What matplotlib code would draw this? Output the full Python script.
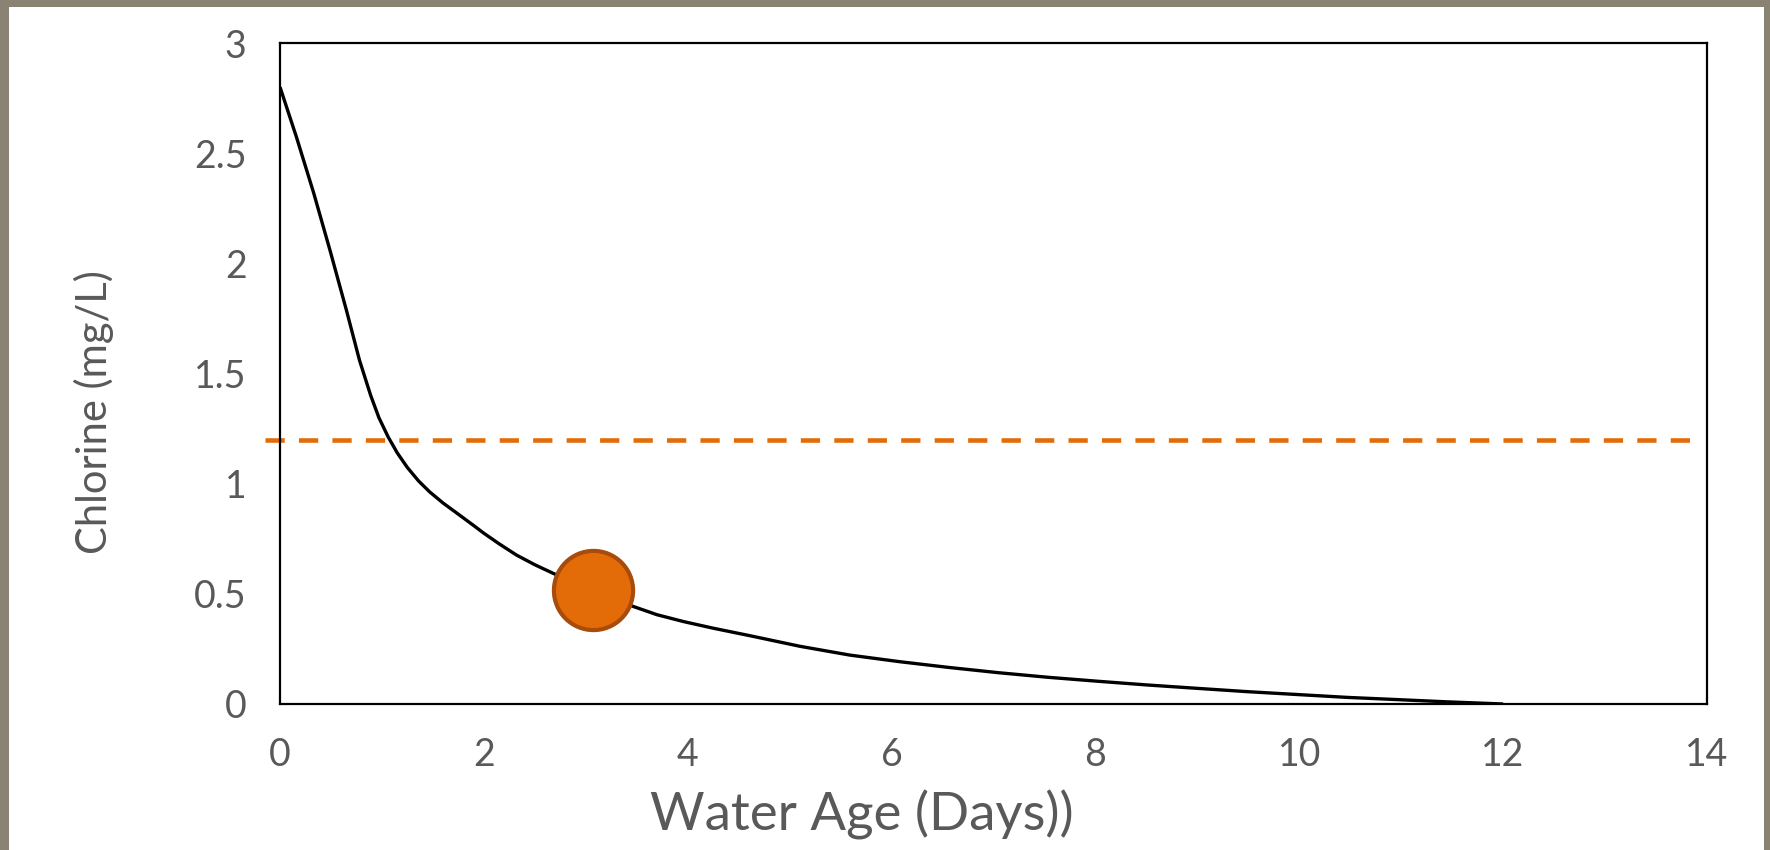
import matplotlib
matplotlib.use("Agg")
import matplotlib.pyplot as plt
from matplotlib.patches import Rectangle

# Data
water_age = [0, 0.16, 0.33, 0.49, 0.65, 0.78, 0.89, 0.97, 1.06, 1.15, 1.25, 1.36,
             1.47, 1.6, 1.73, 1.9, 2.0, 2.15, 2.32, 2.5, 2.68, 2.88, 3.07, 3.27,
             3.47, 3.7, 3.96, 4.25, 4.61, 5.1, 5.59, 6.08, 6.56, 7.05, 7.54, 8.03,
             8.52, 9.0, 9.49, 9.98, 10.47, 10.96, 11.44, 12.0]
chlorine = [2.80, 2.575, 2.32, 2.06, 1.79, 1.56, 1.40, 1.30, 1.213, 1.14, 1.073, 1.012,
            0.962, 0.912, 0.868, 0.81, 0.775, 0.727, 0.676, 0.632, 0.593, 0.553, 0.517, 0.478,
            0.442, 0.405, 0.374, 0.344, 0.31, 0.262, 0.222, 0.192, 0.166, 0.142, 0.121, 0.103,
            0.086, 0.071, 0.056, 0.043, 0.030, 0.020, 0.010, 0.0]
highlight_x = [3.07]
highlight_y = [0.517]
threshold_y = 1.2
threshold_x = [-0.15, 13.88]

x_ticks = [0, 2, 4, 6, 8, 10, 12, 14]
y_ticks = [0, 0.5, 1, 1.5, 2, 2.5, 3]
y_tick_labels = ["0", "0.5", "1", "1.5", "2", "2.5", "3"]

plt.rcParams['font.family'] = ['Lato', 'DejaVu Sans']

W, H = 1770, 850
fig = plt.figure(figsize=(W / 100, H / 100), dpi=100)
fig.patch.set_facecolor('#8a8272')
bg = Rectangle((9 / W, 0), (1764 - 9) / W, 843 / H,
               transform=fig.transFigure, facecolor='white',
               edgecolor='none', zorder=-10)
fig.add_artist(bg)

ax = fig.add_axes([280 / W, 1 - 704 / H, (1707 - 280) / W, (704 - 43) / H])
ax.set_zorder(5)
ax.set_xlim(0, 14)
ax.set_ylim(0, 3)

ax.plot(threshold_x, [threshold_y, threshold_y], color='#e36c09', lw=3.3,
        dashes=(4.2, 3.1), clip_on=False, zorder=2)
ax.plot(water_age, chlorine, color='black', lw=2.4, zorder=3,
        solid_capstyle='butt', solid_joinstyle='round')
ax.plot(highlight_x, highlight_y, 'o', ms=57, mfc='#e36c09', mec='#a84b0b',
        mew=3.0, zorder=4)

ax.set_xticks(x_ticks)
ax.set_yticks(y_ticks)
ax.set_yticklabels(y_tick_labels)
ax.tick_params(axis='both', length=0, labelsize=27, labelcolor='#595959')
ax.tick_params(axis='x', pad=24)
ax.tick_params(axis='y', pad=24)
for s in ax.spines.values():
    s.set_color('black')
    s.set_linewidth(1.6)

ax.set_xlabel('Water Age (Days))', fontsize=38, color='#595959')
ax.xaxis.label.set_va('center')
ax.xaxis.set_label_coords((862 - 280) / 1427, (704 - 815) / 661)
ax.set_ylabel('Chlorine (mg/L)', fontsize=30, color='#595959')
ax.yaxis.label.set_va('center')
ax.yaxis.set_label_coords((94 - 280) / 1427, (704 - 412) / 661)

fig.savefig('out.png', dpi=100, facecolor=fig.get_facecolor())
